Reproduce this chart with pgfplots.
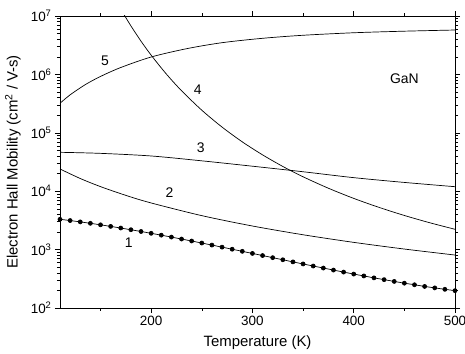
\documentclass[border=0pt]{standalone}
\usepackage{pgfplots}
\pgfplotsset{compat=1.18}
\usepackage{fontspec}
\setmainfont{Liberation Sans}

\begin{document}
\begin{tikzpicture}
\begin{axis}[
  scale only axis, width=395bp, height=292bp,
  xmin=110, xmax=500, ymode=log, ymin=1e2, ymax=1e7,
  xtick={200,300,400,500}, xticklabels={200,300,400,500},
  minor xtick={150,250,350,450},
  ytick={1e2,1e3,1e4,1e5,1e6,1e7},
  yticklabels={10\textsuperscript{2},10\textsuperscript{3},10\textsuperscript{4},10\textsuperscript{5},10\textsuperscript{6},10\textsuperscript{7}},
  minor ytick={200,300,400,500,600,700,800,900,
    2000,3000,4000,5000,6000,7000,8000,9000,
    20000,30000,40000,50000,60000,70000,80000,90000,
    200000,300000,400000,500000,600000,700000,800000,900000,
    2000000,3000000,4000000,5000000,6000000,7000000,8000000,9000000},
  tick align=outside, major tick length=5bp, minor tick length=3bp,
  every tick/.style={black, line width=0.5pt},
  axis line style={line width=0.8pt},
  tick label style={font=\fontsize{13.5}{16}\selectfont},
  label style={font=\fontsize{15}{18}\selectfont},
  xlabel={Temperature (K)},
  ylabel={Electron Hall Mobility (cm\textsuperscript{2} / V-s)},
  xlabel style={at={([yshift=-35bp]axis description cs:0.5,0)}, anchor=center},
  ylabel style={at={([xshift=-47bp]axis description cs:0,0.5)}, anchor=center},
  every axis plot/.append style={black, line width=0.7pt},
]
% curve 1 (dots every 10 K)
\addplot[mark=*, mark size=2bp] coordinates {
(110,3304)(120,3145)(130,2982)(140,2819)(150,2657)(160,2497)(170,2341)(180,2189)
(190,2042)(200,1901)(210,1767)(220,1638)(230,1517)(240,1403)(250,1296)(260,1195)
(270,1102)(280,1015)(290,934)(300,860)(310,791)(320,728)(330,670)(340,616)
(350,568)(360,523)(370,483)(380,446)(390,412)(400,381)(410,354)(420,328)
(430,306)(440,285)(450,266)(460,250)(470,234)(480,221)(490,209)(500,198)};
% curve 2
\addplot[smooth, mark=none] coordinates {
(110,23990)(130,16500)(150,11975)(175,8480)(200,6287)(250,3815)(300,2535)
(350,1795)(400,1330)(450,1022)(500,807)};
% curve 3
\addplot[smooth, mark=none] coordinates {
(110,46340)(150,44460)(200,40090)(250,33110)(300,26790)(350,21530)(400,17060)
(450,14130)(500,11940)};
% curve 4
\addplot[smooth, mark=none] coordinates {
(172,11440000)(180,6779000)(190,3703000)(200,2135000)(215,1014400)(230,525600)
(250,243700)(270,125300)(290,69930)(310,41900)(330,26520)(350,17650)(375,11240)
(400,7531)(425,5281)(450,3841)(475,2885)(500,2228)};
% curve 5
\addplot[smooth, mark=none] coordinates {
(110,319900)(120,446700)(135,668300)(150,922600)(170,1312000)(200,1986000)
(235,2754000)(270,3491000)(310,4150000)(350,4677000)(400,5164000)(450,5495000)
(500,5754000)};
\begin{scope}[every node/.style={font=\fontsize{14}{16}\selectfont}]
\node at (axis cs:178,1310) {1};
\node at (axis cs:218,9420) {2};
\node at (axis cs:249,55600) {3};
\node at (axis cs:246,556000) {4};
\node at (axis cs:154.5,1720000) {5};
\node at (axis cs:450,857000) {GaN};
\end{scope}
\end{axis}
\pgfresetboundingbox
\path ([shift={(-60bp,-46bp)}]current axis.south west) rectangle ([shift={(10bp,16bp)}]current axis.north east);
\end{tikzpicture}
\end{document}
